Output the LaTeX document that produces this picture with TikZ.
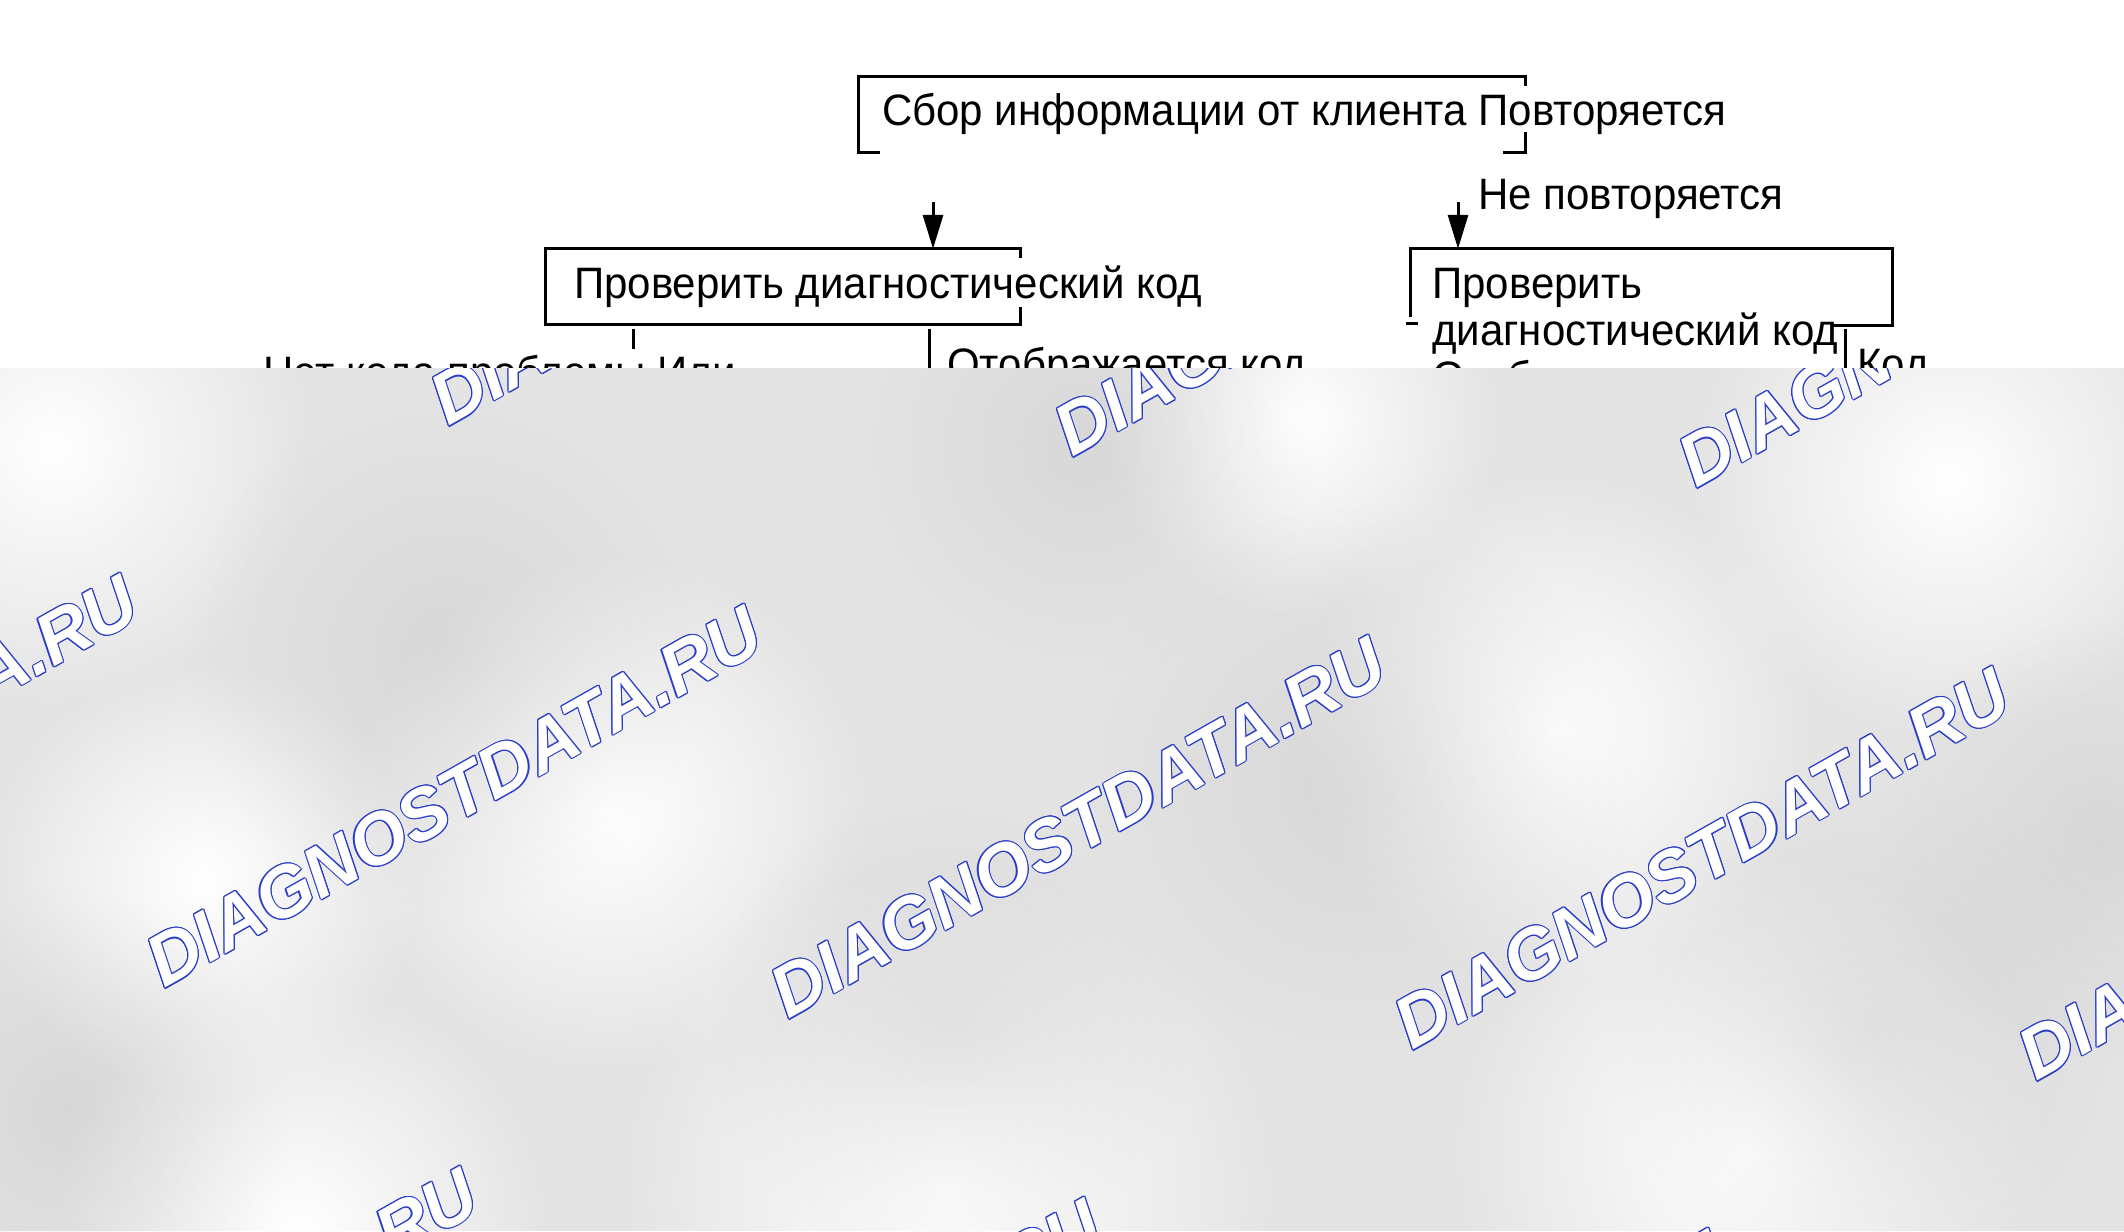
\documentclass[tikz,border=0pt]{standalone}
\usepackage{fontspec}
\setmainfont{Liberation Sans}[FakeStretch=0.955]
\newfontfamily\markfont{Liberation Sans}
\usetikzlibrary{positioning,arrows.meta,fadings,calc}

\definecolor{sheetgrey}{RGB}{228,228,228}
\definecolor{markblue}{RGB}{40,60,200}
\tikzfading[name=soft blob, inner color=transparent!0, outer color=transparent!100]
\newcommand{\marktext}{DIAGNOSTDATA.RU}

\begin{document}
\begin{tikzpicture}[x=1pt,y=-1pt,
  every node/.append style={font=\fontsize{44}{47}\selectfont, inner sep=0pt},
  label text/.style={anchor=base west},
  box/.style={rectangle, minimum width=#1, minimum height=75pt},
  frame/.style={line width=3pt},
  flow/.style={line width=3pt, -{Triangle[length=34pt,width=20pt]}},
  mark outline/.style={anchor=base west, text=markblue, rotate=29.5,
    font=\markfont\fontsize{72}{74}\selectfont\bfseries\itshape},
  mark fill/.append style={mark outline, text=white}]

  \useasboundingbox (0,0) rectangle (2124,1231);
  \fill[white] (0,0) rectangle (2124,1231);

  % Step boxes of the check procedure

  \node [box=666pt] (gather) at (1192,114.5) {};
  \node [box=474pt] (chkA) at (783,286.5) {};
  \node [box=481pt, minimum height=76pt] (chkB) at (1651.5,287) {};

  \draw[frame] ([xshift=21pt]gather.south west) -- (gather.south west)
    -- (gather.north west) -- (gather.north east) -- ([yshift=-9pt]gather.north east);
  \draw[frame] ([yshift=20pt]gather.south east) -- (gather.south east)
    -- ([xshift=-22pt]gather.south east);

  \draw[frame] ([yshift=17pt]chkA.south east) -- (chkA.south east) -- (chkA.south west)
    -- (chkA.north west) -- (chkA.north east) -- ([yshift=-9pt]chkA.north east);

  \draw[frame] ([yshift=8pt]chkB.south west) -- (chkB.north west) -- (chkB.north east)
    -- (chkB.south east) -- ([xshift=-60pt]chkB.south east);
  \draw[frame] ([xshift=-5pt,yshift=2pt]chkB.south west) -- ++(12,0);

  % Texts

  \node [label text] (gathertxt) at (882,125) {Сбор информации от клиента Повторяется};
  \node [label text] (chkAtxt) at (574,298) {Проверить диагностический код};
  \node [label text] (chkBtxt) at (1432,298) {Проверить};
  \node [label text] (chkBtxt2) at (1432,345) {диагностический код};
  \node [label text] (shownB) at (1432,392) {Отображается код};
  \node [label text] (notrep) at (1478,209) {Не повторяется};
  \node [label text] (nocode) at (263,387) {Нет кода проблемы Или};
  \node [label text] (shownA) at (947,379) {Отображается код};
  \node [label text] (codeB) at (1857,379) {Код};

  % Arrows and branch lines

  \coordinate (fromA) at (933,202);
  \coordinate (fromB) at (1458,202);
  \draw[flow] (fromA) -- (fromA |- chkA.north);
  \draw[flow] (fromB) -- (fromB |- chkB.north);

  \draw[frame] ([xshift=88pt,yshift=-5pt]chkA.south west) -- ++(0,20);
  \draw[frame] ([xshift=384pt,yshift=-5pt]chkA.south west) -- ++(0,50);
  \draw[frame] ([xshift=-47pt,yshift=-4pt]chkB.south east) -- ++(0,50);

  % Grey sheet with the watermark

  \begin{scope}
    \clip (0,368) rectangle (2124,1231);
    \fill[sheetgrey] (0,368) rectangle (2124,1231);
    \foreach \x/\y/\r in {54/447/260, 610/813/260, 203/880/220, 948/1192/330,
        1558/731/260, 1950/480/260, 1750/1150/300, 300/1231/250, 1300/420/200}
      \fill[white, path fading=soft blob] (\x,\y) circle (\r pt);
    \foreach \x/\y/\r in {1084/447/230, 1355/786/280, 447/650/260, 948/1030/240,
        1870/1030/260, 2100/840/220, 68/1111/220}
      \fill[black!35, opacity=0.2, path fading=soft blob] (\x,\y) circle (\r pt);

    \foreach \i in {-1,...,3}
      \foreach \j in {-1,0,1} {
        \coordinate (wm) at ({164+624*(\i)+284*(\j)},{989+31*(\i)-562*(\j)});
        \foreach \a in {0,30,...,330}
          \node [mark outline] at ($(wm)+(\a:1.1pt)$) {\marktext};
        \node [mark fill] at (wm) {\marktext};
      }
  \end{scope}
\end{tikzpicture}
\end{document}
